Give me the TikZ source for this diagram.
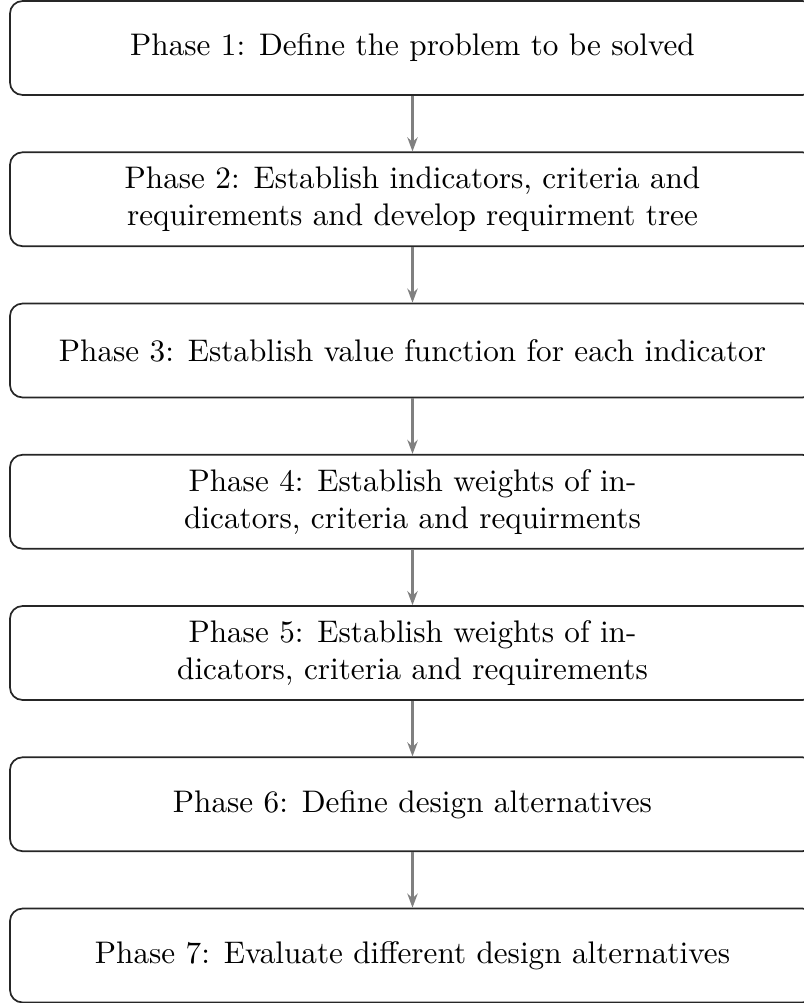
\documentclass[tikz,border=0pt]{standalone}
\usetikzlibrary{arrows.meta}
\begin{document}
\begin{tikzpicture}[x=0.3205pt,y=-0.3205pt,
  phasebox/.style={draw=black!85, line width=0.55pt, rounded corners=4pt,
    minimum width=258pt, minimum height=30.1pt, align=center,
    inner sep=0pt, font=\normalsize},
  flow/.style={draw=black!50, line width=0.9pt,
    -{Stealth[length=4.5pt,width=3.3pt]}}]
  \useasboundingbox (0,0) rectangle (803,1003);
  \node[phasebox] (p1) at (412.5,48) {Phase 1: Define the problem to be solved};
  \node[phasebox] (p2) at (412.5,199.25) {Phase 2: Establish indicators, criteria and\\requirements and develop requirment tree};
  \node[phasebox] (p3) at (412.5,350.5) {Phase 3: Establish value function for each indicator};
  \node[phasebox] (p4) at (412.5,501.75) {Phase 4: Establish weights of in-\\dicators, criteria and requirments};
  \node[phasebox] (p5) at (412.5,653) {Phase 5: Establish weights of in-\\dicators, criteria and requirements};
  \node[phasebox] (p6) at (412.5,804.25) {Phase 6: Define design alternatives};
  \node[phasebox] (p7) at (412.5,955.5) {Phase 7: Evaluate different design alternatives};
  \foreach \a/\b in {p1/p2,p2/p3,p3/p4,p4/p5,p5/p6,p6/p7}
    \draw[flow] (\a) -- (\b);
\end{tikzpicture}
\end{document}
